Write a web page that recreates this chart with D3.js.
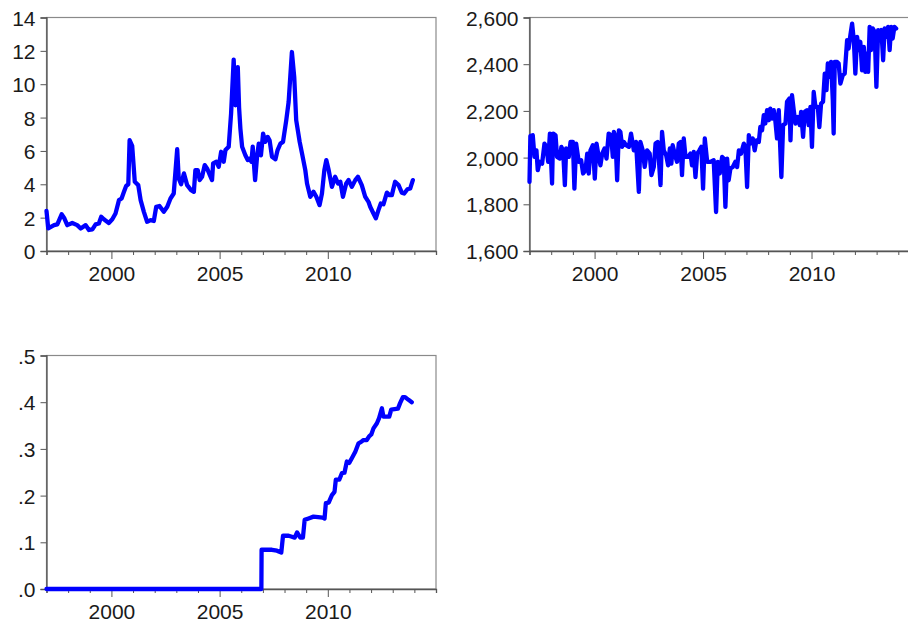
<!DOCTYPE html>
<html>
<head>
<meta charset="utf-8">
<script src="https://d3js.org/d3.v7.min.js"></script>
<style>
  body { margin: 0; background: #fff; }
  svg { display: block; }
  .tick text { font-family: "Liberation Sans", Arial, sans-serif; font-size: 21px; fill: #1a1a1a; }
</style>
</head>
<body>
<script>
// series: [decimal year, value]
var rateSeries = [
  [1997.00, 2.40], [1997.08, 1.36], [1997.35, 1.55], [1997.50, 1.60], [1997.70, 2.20], [1997.81, 2.00],
  [1997.96, 1.55], [1998.19, 1.68], [1998.42, 1.55], [1998.58, 1.35], [1998.81, 1.55], [1998.96, 1.26],
  [1999.12, 1.30], [1999.27, 1.60], [1999.42, 1.65], [1999.53, 2.05], [1999.65, 1.90], [1999.88, 1.68],
  [2000.04, 1.90], [2000.19, 2.25], [2000.35, 3.05], [2000.47, 3.15], [2000.58, 3.55], [2000.68, 3.90],
  [2000.78, 4.00], [2000.84, 6.64], [2000.96, 6.30], [2001.08, 4.15], [2001.24, 3.95], [2001.35, 3.05],
  [2001.50, 2.35], [2001.65, 1.75], [2001.81, 1.85], [2001.96, 1.80], [2002.07, 2.65], [2002.22, 2.70],
  [2002.42, 2.35], [2002.58, 2.65], [2002.73, 3.15], [2002.88, 3.45], [2003.04, 6.10], [2003.11, 4.35],
  [2003.22, 4.00], [2003.35, 4.65], [2003.50, 3.95], [2003.68, 3.65], [2003.81, 3.55], [2003.88, 4.85],
  [2003.99, 4.85], [2004.08, 4.25], [2004.19, 4.45], [2004.31, 5.15], [2004.42, 4.95], [2004.55, 4.55],
  [2004.65, 4.25], [2004.70, 5.25], [2004.85, 5.35], [2004.96, 5.05], [2005.07, 5.95], [2005.19, 5.35],
  [2005.27, 6.05], [2005.42, 6.25], [2005.53, 8.24], [2005.65, 11.47], [2005.73, 8.74], [2005.84, 11.03],
  [2005.90, 8.60], [2005.96, 7.34], [2006.04, 6.25], [2006.19, 5.74], [2006.30, 5.45], [2006.39, 5.55],
  [2006.47, 5.35], [2006.53, 6.25], [2006.64, 4.25], [2006.73, 5.65], [2006.81, 6.44], [2006.91, 5.74],
  [2007.01, 7.04], [2007.11, 6.54], [2007.22, 6.84], [2007.31, 6.64], [2007.42, 5.65], [2007.58, 5.50],
  [2007.68, 6.05], [2007.81, 6.44], [2007.93, 6.54], [2008.08, 7.84], [2008.19, 8.94], [2008.34, 11.93],
  [2008.45, 10.40], [2008.54, 7.84], [2008.70, 6.54], [2008.81, 5.84], [2008.96, 4.85], [2009.04, 4.05],
  [2009.19, 3.25], [2009.34, 3.55], [2009.47, 3.25], [2009.62, 2.75], [2009.73, 3.45], [2009.84, 4.85],
  [2009.93, 5.45], [2010.04, 4.85], [2010.19, 3.85], [2010.34, 4.45], [2010.47, 4.05], [2010.58, 4.15],
  [2010.70, 3.25], [2010.85, 4.05], [2010.96, 4.25], [2011.11, 3.85], [2011.27, 4.25], [2011.39, 4.45],
  [2011.57, 3.95], [2011.73, 3.25], [2011.88, 2.95], [2011.96, 2.65], [2012.11, 2.25], [2012.22, 1.96],
  [2012.34, 2.45], [2012.45, 2.85], [2012.57, 2.80], [2012.73, 3.50], [2012.85, 3.35], [2012.96, 3.35],
  [2013.11, 4.15], [2013.27, 3.95], [2013.42, 3.50], [2013.53, 3.45], [2013.68, 3.70], [2013.81, 3.75],
  [2013.93, 4.25]
];

var levelSeries = [
  [1997.00, 1896], [1997.04, 2092], [1997.15, 2096], [1997.23, 2003], [1997.32, 2031], [1997.38, 1946],
  [1997.47, 1982], [1997.58, 1974], [1997.69, 2060], [1997.78, 2046], [1997.86, 1982], [1997.94, 2103],
  [1998.04, 1889], [1998.09, 2103], [1998.20, 2096], [1998.27, 2003], [1998.40, 1996], [1998.47, 2046],
  [1998.55, 2031], [1998.63, 1882], [1998.69, 2039], [1998.81, 2003], [1998.89, 2067], [1999.00, 2067],
  [1999.07, 1867], [1999.15, 2060], [1999.27, 1982], [1999.38, 1989], [1999.47, 1932], [1999.58, 1946],
  [1999.66, 2017], [1999.73, 1932], [1999.81, 2031], [1999.92, 2053], [2000.01, 1910], [2000.09, 2060],
  [2000.19, 2003], [2000.27, 1967], [2000.35, 2017], [2000.46, 2039], [2000.55, 1996], [2000.65, 2103],
  [2000.76, 2096], [2000.84, 2003], [2000.89, 2110], [2000.96, 2089], [2001.04, 1903], [2001.12, 2117],
  [2001.19, 2110], [2001.27, 2046], [2001.35, 2067], [2001.45, 2053], [2001.58, 2046], [2001.68, 2103],
  [2001.81, 2031], [2001.91, 2067], [2002.04, 1853], [2002.11, 2067], [2002.22, 2031], [2002.31, 1960],
  [2002.42, 2031], [2002.54, 2017], [2002.62, 1925], [2002.73, 1960], [2002.81, 2060], [2002.91, 2067],
  [2003.04, 1882], [2003.11, 2110], [2003.19, 2031], [2003.30, 2010], [2003.39, 1967], [2003.47, 2039],
  [2003.54, 1974], [2003.60, 2053], [2003.73, 2003], [2003.80, 1982], [2003.88, 2060], [2003.96, 2067],
  [2004.03, 1925], [2004.11, 2082], [2004.19, 2003], [2004.31, 2003], [2004.42, 2017], [2004.49, 1967],
  [2004.57, 2024], [2004.65, 1917], [2004.73, 2017], [2004.83, 2031], [2004.92, 2046], [2005.00, 1867],
  [2005.08, 2082], [2005.19, 1982], [2005.34, 1982], [2005.49, 1989], [2005.60, 1767], [2005.68, 1982],
  [2005.77, 1932], [2005.88, 2003], [2005.95, 1996], [2006.03, 1789], [2006.11, 1996], [2006.18, 1903],
  [2006.26, 1953], [2006.37, 1960], [2006.49, 1982], [2006.57, 1960], [2006.65, 2031], [2006.75, 2017],
  [2006.88, 2060], [2006.95, 2046], [2007.03, 1874], [2007.11, 2096], [2007.18, 2060], [2007.29, 2082],
  [2007.38, 2031], [2007.46, 2074], [2007.57, 2067], [2007.64, 2131], [2007.72, 2117], [2007.80, 2182],
  [2007.87, 2146], [2007.95, 2203], [2008.03, 2160], [2008.10, 2210], [2008.18, 2167], [2008.26, 2203],
  [2008.33, 2160], [2008.41, 2082], [2008.49, 2203], [2008.61, 1917], [2008.69, 2139], [2008.80, 2146],
  [2008.87, 2239], [2008.98, 2253], [2009.03, 2074], [2009.10, 2267], [2009.18, 2203], [2009.26, 2146],
  [2009.36, 2174], [2009.46, 2139], [2009.52, 2196], [2009.61, 2089], [2009.69, 2196], [2009.79, 2203],
  [2009.87, 2139], [2009.95, 2217], [2010.02, 2046], [2010.10, 2281], [2010.18, 2217], [2010.29, 2217],
  [2010.36, 2131], [2010.44, 2231], [2010.53, 2239], [2010.61, 2360], [2010.69, 2289], [2010.75, 2403],
  [2010.82, 2346], [2010.90, 2410], [2010.98, 2246], [2011.02, 2103], [2011.07, 2410], [2011.18, 2410],
  [2011.25, 2403], [2011.33, 2317], [2011.44, 2353], [2011.53, 2360], [2011.64, 2503], [2011.71, 2467],
  [2011.79, 2524], [2011.87, 2574], [2011.95, 2503], [2012.02, 2360], [2012.10, 2517], [2012.18, 2460],
  [2012.25, 2496], [2012.33, 2374], [2012.41, 2474], [2012.48, 2367], [2012.56, 2446], [2012.61, 2367],
  [2012.68, 2560], [2012.74, 2460], [2012.82, 2553], [2012.91, 2539], [2012.99, 2303], [2013.07, 2546],
  [2013.14, 2532], [2013.22, 2546], [2013.30, 2417], [2013.37, 2553], [2013.45, 2517], [2013.53, 2560],
  [2013.60, 2460], [2013.67, 2560], [2013.74, 2510], [2013.82, 2560], [2013.90, 2553]
];

var shareSeries = [
  [1997.00, 0], [2006.93, 0], [2006.94, 0.084], [2007.42, 0.084], [2007.65, 0.082], [2007.85, 0.078],
  [2007.93, 0.114], [2008.19, 0.114], [2008.34, 0.112], [2008.47, 0.110], [2008.58, 0.121], [2008.73, 0.110],
  [2008.85, 0.110], [2008.93, 0.148], [2009.11, 0.151], [2009.34, 0.155], [2009.76, 0.153], [2009.85, 0.151],
  [2009.91, 0.184], [2010.04, 0.185], [2010.19, 0.201], [2010.31, 0.208], [2010.37, 0.234], [2010.53, 0.234],
  [2010.65, 0.248], [2010.77, 0.249], [2010.88, 0.273], [2010.99, 0.270], [2011.11, 0.280], [2011.27, 0.294],
  [2011.42, 0.312], [2011.54, 0.315], [2011.65, 0.319], [2011.80, 0.319], [2011.91, 0.327], [2012.01, 0.331],
  [2012.11, 0.344], [2012.27, 0.355], [2012.37, 0.366], [2012.50, 0.387], [2012.57, 0.369], [2012.84, 0.369],
  [2012.93, 0.384], [2013.24, 0.386], [2013.34, 0.398], [2013.47, 0.411], [2013.57, 0.411], [2013.73, 0.405],
  [2013.88, 0.400]
];

// tick values
var yearTicks = [1997, 1998, 1999, 2000, 2001, 2002, 2003, 2004, 2005, 2006, 2007, 2008, 2009, 2010, 2011, 2012, 2013, 2014];
var yearLabels = [2000, 2005, 2010];
var rateTicks = [0, 2, 4, 6, 8, 10, 12, 14];
var levelTicks = [1600, 1800, 2000, 2200, 2400, 2600];
var shareTicks = [0, 0.1, 0.2, 0.3, 0.4, 0.5];

var w = 908;
var h = 625;

var svg = d3.select("body")
            .append("svg")
            .attr("width", w)
            .attr("height", h);

var shareFormat = function(d) { return d3.format(".1f")(d).replace(/^0/, ""); };

var panels = [
  {data: rateSeries, x0: 46.5, x1: 436, y0: 17.5, y1: 251, yDomain: [0, 14], ticks: rateTicks, fmt: d3.format("d")},
  {data: levelSeries, x0: 529.5, x1: 920, y0: 17.5, y1: 251, yDomain: [1600, 2600], ticks: levelTicks, fmt: d3.format(",")},
  {data: shareSeries, x0: 46.5, x1: 436, y0: 355.5, y1: 589, yDomain: [0, 0.5], ticks: shareTicks, fmt: shareFormat}
];

panels.forEach(function(p) {

  var xScale = d3.scaleLinear()
                 .domain([1997, 2015])
                 .range([p.x0, p.x1]);

  var yScale = d3.scaleLinear()
                 .domain(p.yDomain)
                 .range([p.y1, p.y0]);

  var g = svg.append("g");

  // frame: light top/right, darker axes
  g.append("rect")
   .attr("x", p.x0)
   .attr("y", p.y0)
   .attr("width", p.x1 - p.x0)
   .attr("height", p.y1 - p.y0)
   .style("fill", "none")
   .style("stroke", "#8a8a8a")
   .style("stroke-width", 1.2);

  // y axis
  var yAxis = d3.axisLeft(yScale)
                .tickValues(p.ticks)
                .tickSize(6)
                .tickPadding(5)
                .tickFormat(p.fmt);

  g.append("g")
   .attr("transform", "translate(" + p.x0 + ",0)")
   .call(yAxis)
   .call(function(a) {
     a.select(".domain").attr("stroke", "#555").attr("stroke-width", 1.3);
     a.selectAll(".tick line").attr("stroke", "#555");
     a.selectAll(".tick text").attr("dy", "0.36em");
   });

  // x axis, long ticks on labelled years
  var xAxis = d3.axisBottom(xScale)
                .tickValues(yearTicks)
                .tickSize(4)
                .tickFormat(function(d) { return yearLabels.indexOf(d) >= 0 ? d : ""; });

  g.append("g")
   .attr("transform", "translate(0," + p.y1 + ")")
   .call(xAxis)
   .call(function(a) {
     a.select(".domain").attr("stroke", "#555").attr("stroke-width", 1.3);
     a.selectAll(".tick line")
      .attr("stroke", "#555")
      .attr("y2", function(d) { return yearLabels.indexOf(d) >= 0 ? 8 : 4; });
     a.selectAll(".tick text").attr("y", 15);
   });

  var valueline = d3.line()
                    .x(function(d) { return xScale(d[0]); })
                    .y(function(d) { return yScale(d[1]); });

  g.append("path")
   .datum(p.data)
   .attr("d", valueline)
   .style("fill", "none")
   .style("stroke", "#0000ff")
   .style("stroke-width", 4.3)
   .style("stroke-linejoin", "round")
   .style("stroke-linecap", "round");
});
</script>
</body>
</html>
